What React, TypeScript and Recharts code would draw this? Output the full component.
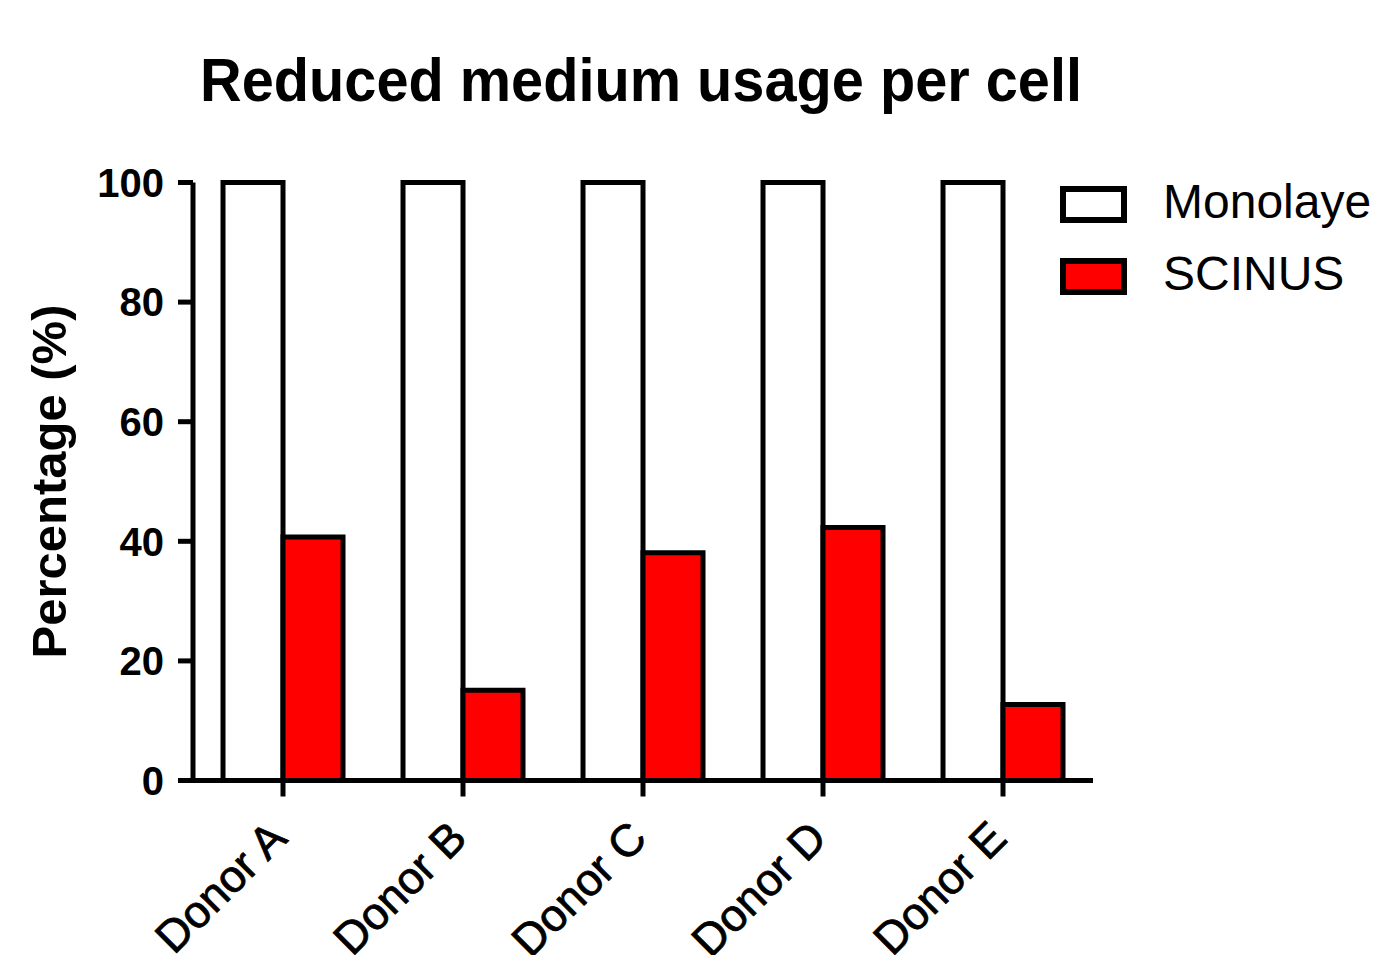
import React from 'react';
import { BarChart, Bar, XAxis, YAxis } from 'recharts';

const donors = ['Donor A', 'Donor B', 'Donor C', 'Donor D', 'Donor E'];
const monolayer = [100, 100, 100, 100, 100];
const scinus = [40.7, 15.1, 38.1, 42.3, 12.7];
const yTicks = [0, 20, 40, 60, 80, 100];

const seriesNames = ['Monolayer', 'SCINUS'];
const seriesFills = ['#ffffff', '#ff0000'];

const FONT = '"Liberation Sans", Arial, sans-serif';

const data = donors.map((donor, i) => ({
  donor,
  Monolayer: monolayer[i],
  SCINUS: scinus[i],
}));

const DonorTick = (props: any) => {
  const { x, y, payload } = props;
  return (
    <g transform={`translate(${x + 6},${y + 42})`}>
      <text
        transform="rotate(-45)"
        textAnchor="end"
        fontFamily={FONT}
        fontSize={45}
        stroke="#000"
        strokeWidth={0.8}
        fill="#000"
      >
        {payload.value}
      </text>
    </g>
  );
};

const App: React.FC = () => {
  return (
    <div style={{ position: 'absolute', left: 0, top: 0, width: 1373, height: 955, background: '#fff' }}>
      <BarChart
        width={1373}
        height={955}
        data={data}
        margin={{ top: 182.5, right: 280, bottom: 0, left: 0 }}
        barGap={0}
        barCategoryGap="16.67%"
      >
        <XAxis
          dataKey="donor"
          height={174.5}
          interval={0}
          tickSize={16}
          tick={<DonorTick />}
          axisLine={{ stroke: '#000', strokeWidth: 5 }}
          tickLine={{ stroke: '#000', strokeWidth: 5 }}
        />
        <YAxis
          width={193}
          domain={[0, 100]}
          ticks={yTicks}
          tickSize={15}
          tickMargin={14}
          axisLine={{ stroke: '#000', strokeWidth: 5 }}
          tickLine={{ stroke: '#000', strokeWidth: 5 }}
          tick={{ fill: '#000', fontFamily: FONT, fontWeight: 'bold', fontSize: 40 }}
          label={(p: any) => {
            const vb = p.viewBox || { y: 182.5, height: 598 };
            const cy = vb.y + vb.height / 2;
            return (
              <text
                x={66}
                y={cy}
                transform={`rotate(-90, 66, ${cy})`}
                textAnchor="middle"
                fontFamily={FONT}
                fontWeight="bold"
                fontSize={49}
                fill="#000"
              >
                Percentage (%)
              </text>
            );
          }}
        />
        <Bar dataKey="Monolayer" fill={seriesFills[0]} stroke="#000" strokeWidth={5} isAnimationActive={false} />
        <Bar dataKey="SCINUS" fill={seriesFills[1]} stroke="#000" strokeWidth={5} isAnimationActive={false} />
      </BarChart>
      <svg width={1373} height={320} style={{ position: 'absolute', left: 0, top: 0, pointerEvents: 'none' }}>
        <text
          x={641}
          y={101}
          textAnchor="middle"
          fontFamily={FONT}
          fontWeight="bold"
          fontSize={62}
          textLength={882}
          lengthAdjust="spacingAndGlyphs"
          fill="#000"
        >
          Reduced medium usage per cell
        </text>
        {seriesNames.map((name, i) => (
          <g key={name}>
            <rect
              x={1063}
              y={189 + i * 72}
              width={61}
              height={31}
              fill={seriesFills[i]}
              stroke="#000"
              strokeWidth={6}
            />
            <text x={1163} y={218 + i * 72} fontFamily={FONT} fontSize={48} fill="#000">
              {name}
            </text>
          </g>
        ))}
      </svg>
    </div>
  );
};

export default App;
